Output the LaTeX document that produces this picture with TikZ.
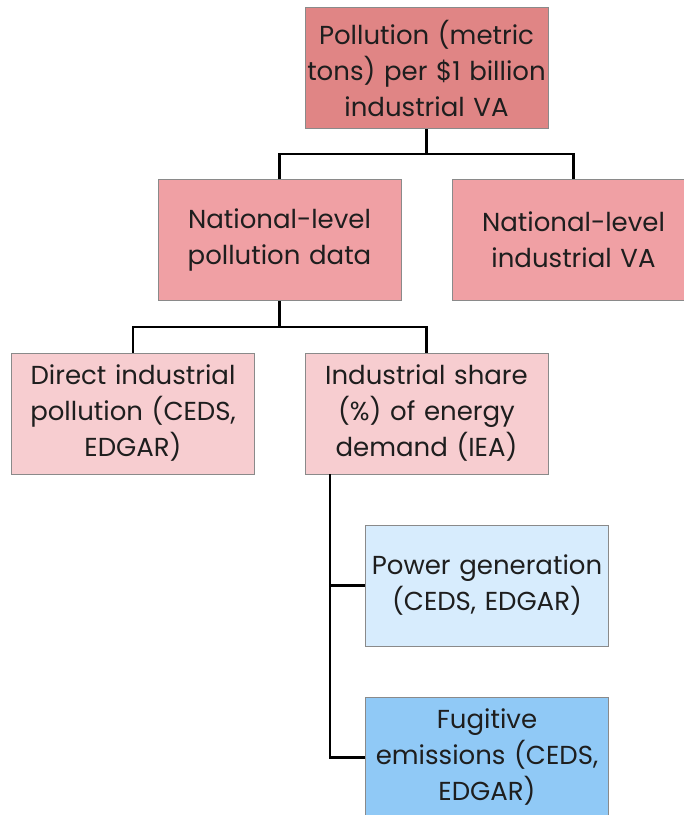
\documentclass[tikz,border=0pt]{standalone}
\usepackage{fontspec}
\setmainfont{Poppins}
\definecolor{cTop}{HTML}{E08585}
\definecolor{cMid}{HTML}{F0A0A4}
\definecolor{cLow}{HTML}{F7CDD0}
\definecolor{cPow}{HTML}{D7ECFD}
\definecolor{cFug}{HTML}{90C9F6}
\definecolor{cEdge}{HTML}{8A8A8A}
\definecolor{cText}{HTML}{1E1E1E}
\begin{document}
\begin{tikzpicture}[x=1pt,y=-1pt,
  box/.style={draw=cEdge, line width=1pt, rectangle, minimum width=243pt, minimum height=121pt,
    text width=242pt, align=center, inner sep=0pt, text=cText,
    font=\fontsize{26}{36}\selectfont},
  conn/.style={line width=2.5pt, black}]
\useasboundingbox (0,0) rectangle (684,815);
\clip (0,0) rectangle (684,815);
\node[box, fill=cTop] (top) at (426.5,68) {Pollution (metric\\tons) per \$1 billion\\industrial VA};
\node[box, fill=cMid] (poll) at (279.5,240) {National-level\\pollution data};
\node[box, fill=cMid] (va) at (573.5,240) {National-level\\industrial VA};
\node[box, fill=cLow] (direct) at (133,413.5) {Direct industrial\\pollution (CEDS,\\EDGAR)};
\node[box, fill=cLow] (share) at (426.5,413.5) {Industrial share\\(\%) of energy\\demand (IEA)};
\node[box, fill=cPow] (power) at (487,585.5) {Power generation\\(CEDS, EDGAR)};
\node[box, fill=cFug] (fug) at (487,757.5) {Fugitive\\emissions (CEDS,\\EDGAR)};
\coordinate (j1) at (426.5,154);
\coordinate (j2) at (279.5,327);
\coordinate (sx) at (330,474);
\draw[conn] (top.south) -- (j1) -| (poll.north);
\draw[conn] (j1) -| (va.north);
\draw[conn] (poll.south) -- (j2) -| (direct.north);
\draw[conn] (j2) -| (share.north);
\draw[conn] (sx) |- (fug.west);
\draw[conn] (sx |- power.west) -- (power.west);
\end{tikzpicture}
\end{document}
